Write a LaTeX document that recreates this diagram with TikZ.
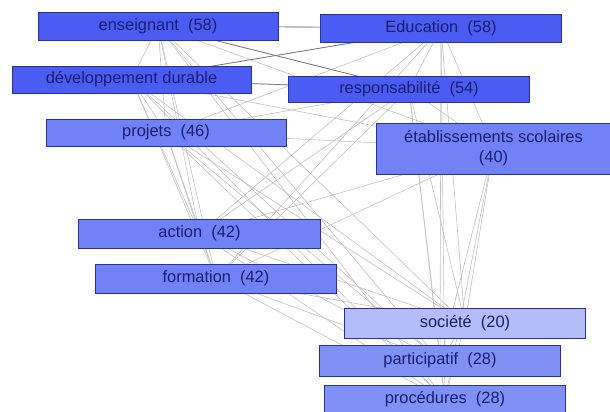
\documentclass[tikz,border=0pt]{standalone}
\usepackage{fontspec}
\setmainfont{Liberation Sans}
\usetikzlibrary{backgrounds}

\definecolor{wordA}{RGB}{74,92,242}
\definecolor{wordB}{RGB}{112,130,245}
\definecolor{wordC}{RGB}{128,145,246}
\definecolor{wordD}{RGB}{180,188,250}
\definecolor{wordline}{RGB}{40,48,165}
\definecolor{wordtext}{RGB}{25,30,110}

\begin{document}
\begin{tikzpicture}[x=0.03cm, y=-0.03cm,
    word/.style={draw=wordline, line width=0.8pt, text=wordtext, inner sep=0pt,
        font=\fontsize{14}{17}\selectfont, align=center,
        minimum width=7.25cm, minimum height=0.84cm},
    link/.style={gray!50, line width=0.5pt},
    strong/.style={black!55, line width=0.6pt}]
    \useasboundingbox (0,0) rectangle (610,411);
    % words
    \node[word, fill=wordA, minimum width=7.2cm] (ens) at (158,26) {enseignant\ \ (58)};
    \node[word, fill=wordA] (edu) at (441,28) {Education\ \ (58)};
    \node[word, fill=wordA, minimum width=7.17cm, minimum height=0.81cm] (dev) at (131.5,79.5) {développement durable};
    \node[word, fill=wordA, minimum height=0.78cm] (resp) at (409,89) {responsabilité\ \ (54)};
    \node[word, fill=wordB, minimum width=7.2cm, minimum height=0.81cm] (proj) at (166,132.5) {projets\ \ (46)};
    \node[word, fill=wordB, minimum width=7cm, minimum height=1.53cm] (etab) at (493.5,148.5) {établissements scolaires\\(40)};
    \node[word, fill=wordB, minimum height=0.87cm] (act) at (199.5,233.5) {action\ \ (42)};
    \node[word, fill=wordB, minimum height=0.87cm] (form) at (216,278.5) {formation\ \ (42)};
    \node[word, fill=wordD, minimum height=0.9cm] (soc) at (465,323) {société\ \ (20)};
    \node[word, fill=wordC, minimum height=0.93cm] (part) at (440,360.5) {participatif\ \ (28)};
    \node[word, fill=wordC, minimum height=0.87cm] (proc) at (445,399.5) {procédures\ \ (28)};
    % co-occurrence links
    \begin{pgfonlayer}{background}
        \foreach \a [count=\i] in {ens,edu,dev,resp,proj,etab,act,form,soc,part,proc} {
            \foreach \b [count=\j] in {ens,edu,dev,resp,proj,etab,act,form,soc,part,proc} {
                \ifnum\j>\i \draw[link] (\a.center) -- (\b.center); \fi
            }
        }
        \foreach \a/\b in {ens/edu, ens/resp, dev/edu, dev/resp}
            \draw[strong] (\a.center) -- (\b.center);
    \end{pgfonlayer}
\end{tikzpicture}
\end{document}
